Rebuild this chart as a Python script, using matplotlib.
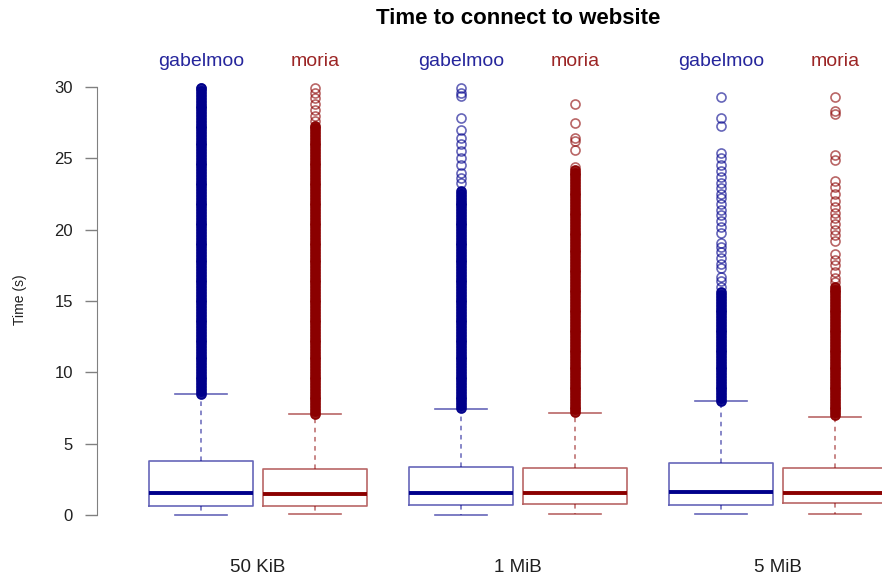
import matplotlib.pyplot as plt

plt.rcParams['font.family'] = ['Liberation Sans', 'DejaVu Sans']

# 1. Values
sizes = ["50 KiB", "1 MiB", "5 MiB"]
relays = ["gabelmoo", "moria"]
positions = [1, 2, 3.28, 4.28, 5.56, 6.56]

whislo = [0.0, 0.09, 0.0, 0.07, 0.05, 0.07]
q1 = [0.65, 0.63, 0.70, 0.77, 0.72, 0.84]
med = [1.52, 1.45, 1.54, 1.54, 1.61, 1.52]
q3 = [3.81, 3.20, 3.36, 3.29, 3.67, 3.27]
whishi = [8.46, 7.06, 7.43, 7.15, 7.99, 6.87]

# outliers in the runs where they pile up into a solid bar
dense_g1 = [8.5, 8.7, 8.9, 9.1, 9.3, 9.5, 9.7, 9.9, 10.1, 10.3, 10.5, 10.7,
            10.9, 11.1, 11.3, 11.5, 11.7, 11.9, 12.1, 12.3, 12.5, 12.7, 12.9,
            13.1, 13.3, 13.5, 13.7, 13.9, 14.1, 14.3, 14.5, 14.7, 14.9, 15.1,
            15.3, 15.5, 15.7, 15.9, 16.1, 16.3, 16.5, 16.7, 16.9, 17.1, 17.3,
            17.5, 17.7, 17.9, 18.1, 18.3, 18.5, 18.7, 18.9, 19.1, 19.3, 19.5,
            19.7, 19.9, 20.1, 20.3, 20.5, 20.7, 20.9, 21.1, 21.3, 21.5, 21.7,
            21.9, 22.1, 22.3, 22.5, 22.7, 22.9, 23.1, 23.3, 23.5, 23.7, 23.9,
            24.1, 24.3, 24.5, 24.7, 24.9, 25.1, 25.3, 25.5, 25.7, 25.9, 26.1,
            26.3, 26.5, 26.7, 26.9, 27.1, 27.3, 27.5, 27.7, 27.9, 28.1, 28.3,
            28.5, 28.7, 28.9, 29.1, 29.3, 29.5, 29.7, 29.9]
dense_m1 = [7.1, 7.3, 7.5, 7.7, 7.9, 8.1, 8.3, 8.5, 8.7, 8.9, 9.1, 9.3, 9.5,
            9.7, 9.9, 10.1, 10.3, 10.5, 10.7, 10.9, 11.1, 11.3, 11.5, 11.7,
            11.9, 12.1, 12.3, 12.5, 12.7, 12.9, 13.1, 13.3, 13.5, 13.7, 13.9,
            14.1, 14.3, 14.5, 14.7, 14.9, 15.1, 15.3, 15.5, 15.7, 15.9, 16.1,
            16.3, 16.5, 16.7, 16.9, 17.1, 17.3, 17.5, 17.7, 17.9, 18.1, 18.3,
            18.5, 18.7, 18.9, 19.1, 19.3, 19.5, 19.7, 19.9, 20.1, 20.3, 20.5,
            20.7, 20.9, 21.1, 21.3, 21.5, 21.7, 21.9, 22.1, 22.3, 22.5, 22.7,
            22.9, 23.1, 23.3, 23.5, 23.7, 23.9, 24.1, 24.3, 24.5, 24.7, 24.9,
            25.1, 25.3, 25.5, 25.7, 25.9, 26.1, 26.3, 26.5, 26.7, 26.9, 27.1,
            27.3]
dense_g2 = [7.5, 7.7, 7.9, 8.1, 8.3, 8.5, 8.7, 8.9, 9.1, 9.3, 9.5, 9.7,
            9.9, 10.1, 10.3, 10.5, 10.7, 10.9, 11.1, 11.3, 11.5, 11.7, 11.9,
            12.1, 12.3, 12.5, 12.7, 12.9, 13.1, 13.3, 13.5, 13.7, 13.9, 14.1,
            14.3, 14.5, 14.7, 14.9, 15.1, 15.3, 15.5, 15.7, 15.9, 16.1, 16.3,
            16.5, 16.7, 16.9, 17.1, 17.3, 17.5, 17.7, 17.9, 18.1, 18.3, 18.5,
            18.7, 18.9, 19.1, 19.3, 19.5, 19.7, 19.9, 20.1, 20.3, 20.5, 20.7,
            20.9, 21.1, 21.3, 21.5, 21.7, 21.9, 22.1, 22.3, 22.5, 22.7]
dense_m2 = [7.2, 7.4, 7.6, 7.8, 8.0, 8.2, 8.4, 8.6, 8.8, 9.0, 9.2, 9.4,
            9.6, 9.8, 10.0, 10.2, 10.4, 10.6, 10.8, 11.0, 11.2, 11.4, 11.6,
            11.8, 12.0, 12.2, 12.4, 12.6, 12.8, 13.0, 13.2, 13.4, 13.6, 13.8,
            14.0, 14.2, 14.4, 14.6, 14.8, 15.0, 15.2, 15.4, 15.6, 15.8, 16.0,
            16.2, 16.4, 16.6, 16.8, 17.0, 17.2, 17.4, 17.6, 17.8, 18.0, 18.2,
            18.4, 18.6, 18.8, 19.0, 19.2, 19.4, 19.6, 19.8, 20.0, 20.2, 20.4,
            20.6, 20.8, 21.0, 21.2, 21.4, 21.6, 21.8, 22.0, 22.2, 22.4, 22.6,
            22.8, 23.0, 23.2, 23.4, 23.6, 23.8, 24.0, 24.2]
dense_g3 = [8.0, 8.2, 8.4, 8.6, 8.8, 9.0, 9.2, 9.4, 9.6, 9.8, 10.0, 10.2,
            10.4, 10.6, 10.8, 11.0, 11.2, 11.4, 11.6, 11.8, 12.0, 12.2, 12.4,
            12.6, 12.8, 13.0, 13.2, 13.4, 13.6, 13.8, 14.0, 14.2, 14.4, 14.6,
            14.8, 15.0, 15.2, 15.4, 15.6]
dense_m3 = [7.0, 7.2, 7.4, 7.6, 7.8, 8.0, 8.2, 8.4, 8.6, 8.8, 9.0, 9.2,
            9.4, 9.6, 9.8, 10.0, 10.2, 10.4, 10.6, 10.8, 11.0, 11.2, 11.4,
            11.6, 11.8, 12.0, 12.2, 12.4, 12.6, 12.8, 13.0, 13.2, 13.4, 13.6,
            13.8, 14.0, 14.2, 14.4, 14.6, 14.8, 15.0, 15.2, 15.4, 15.6, 15.8,
            16.0]

# outliers that still show up as single circles
sparse_g1 = [29.9]
sparse_m1 = [27.6, 28.0, 28.4, 28.8, 29.2, 29.6, 29.9]
sparse_g2 = [23.3, 23.6, 24.0, 24.5, 25.0, 25.5, 26.0, 26.4, 27.0, 27.8,
             29.4, 29.6, 29.9]
sparse_m2 = [24.4, 25.6, 26.2, 26.4, 27.5, 28.8]
sparse_g3 = [16.0, 16.4, 16.7, 17.3, 17.6, 18.0, 18.4, 18.8, 19.1, 19.8,
             20.2, 20.6, 21.0, 21.4, 21.8, 22.2, 22.5, 22.9, 23.3, 23.7,
             24.1, 24.5, 25.0, 25.4, 27.3, 27.8, 29.3]
sparse_m3 = [16.3, 16.6, 17.0, 17.5, 17.9, 18.3, 19.2, 19.6, 20.0, 20.4,
             20.8, 21.2, 21.6, 22.0, 22.5, 23.0, 23.4, 24.9, 25.2, 28.1,
             28.3, 29.3]

dense = [dense_g1, dense_m1, dense_g2, dense_m2, dense_g3, dense_m3]
sparse = [sparse_g1, sparse_m1, sparse_g2, sparse_m2, sparse_g3, sparse_m3]

blue = '#00008B'
red = '#8B0000'

# 2. Box stats for bxp
stats = []
for i in range(len(positions)):
    stats.append({'whislo': whislo[i], 'q1': q1[i], 'med': med[i],
                  'q3': q3[i], 'whishi': whishi[i],
                  'fliers': dense[i] + sparse[i]})

fig = plt.figure(figsize=(8.82, 5.80), dpi=100)
ax = fig.add_axes([97 / 882, 1 - 530 / 580, 1 - 97 / 882, 458 / 580])

for k, color in enumerate([blue, red]):
    ax.bxp(stats[k::2], positions=positions[k::2], widths=0.91,
           showfliers=True, manage_ticks=False,
           boxprops=dict(color=color, alpha=0.6, lw=1.2),
           medianprops=dict(color=color, lw=2.8),
           whiskerprops=dict(color=color, alpha=0.6, lw=1.1, ls=(0, (3, 3))),
           capprops=dict(color=color, alpha=0.6, lw=1.2),
           capwidths=0.46,
           flierprops=dict(marker='o', markersize=6.5, markerfacecolor='none',
                           markeredgecolor=color, alpha=0.6, mew=1.2))

# thousands of overlapping circles read as a filled bar
for i in range(len(positions)):
    color = blue if i % 2 == 0 else red
    ax.plot([positions[i]] * len(dense[i]), dense[i], 'o', ms=6.5,
            mfc=color, mec=color, alpha=0.9)

# 3. Axes cosmetics
ax.set_xlim(0.088, 6.974)
ax.set_ylim(-1.051, 31.051)
for side in ['top', 'right', 'bottom']:
    ax.spines[side].set_visible(False)
ax.spines['left'].set_bounds(0, 30)
ax.spines['left'].set_color('#808080')
ax.set_yticks([0, 5, 10, 15, 20, 25, 30])
ax.tick_params(axis='y', colors='#808080', length=8.4, width=1, pad=9,
               labelsize=12, labelcolor='#202020')
ax.set_xticks([])

fig.text(20 / 882, 1 - 300 / 580, "Time (s)", rotation=90, ha='center',
         va='center', fontsize=10, color='#202020')
fig.text(518 / 882, 1 - 18 / 580, "Time to connect to website",
         ha='center', va='center', fontsize=16, fontweight='bold')

for j, size in enumerate(sizes):
    xc = (positions[2 * j] + positions[2 * j + 1]) / 2
    ax.text(xc, -3.71, size, ha='center', va='center', fontsize=13.5,
            color='#202020', clip_on=False)
    ax.text(positions[2 * j], 31.82, relays[0], ha='center', va='center',
            fontsize=14, color=blue, alpha=0.85, clip_on=False)
    ax.text(positions[2 * j + 1], 31.82, relays[1], ha='center', va='center',
            fontsize=14, color=red, alpha=0.85, clip_on=False)

fig.savefig("out.png", dpi=100)
